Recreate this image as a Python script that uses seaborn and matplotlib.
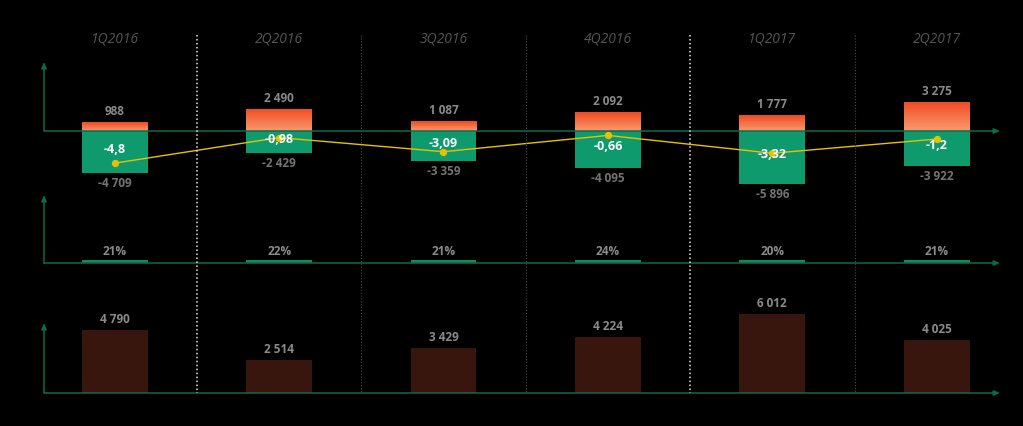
import numpy as np
import pandas as pd
import matplotlib
matplotlib.use("Agg")
import matplotlib.pyplot as plt
from matplotlib.colors import LinearSegmentedColormap
import seaborn as sns

# ---------------- data ----------------
quarters = ["1Q2016", "2Q2016", "3Q2016", "4Q2016", "1Q2017", "2Q2017"]
positive = [988, 2490, 1087, 2092, 1777, 3275]
negative = [-4709, -2429, -3359, -4095, -5896, -3922]
ratio = [-4.8, -0.98, -3.09, -0.66, -3.32, -1.2]
share_pct = [21, 22, 21, 24, 20, 21]
volume = [4790, 2514, 3429, 4224, 6012, 4025]
strong_dividers = [0, 3]  # divider after these category indices is drawn bold

# ---------------- style ----------------
sns.set_style("dark", {"axes.facecolor": "black", "figure.facecolor": "black"})
plt.rcParams["font.family"] = ["Open Sans", "DejaVu Sans"]

BG = "black"
ORANGE_TOP = "#f04a21"
ORANGE_BOT = "#f89a6e"
GREEN = "#0f9a6e"
GREEN_THIN = "#118a62"
AXIS_GREEN = "#0e6a4f"
BROWN = "#38160d"
YELLOW = "#e6c200"
LABEL_GRAY = "#8a8a8a"
NEG_GRAY = "#747474"
CAT_GRAY = "#555555"

W, H = 1023, 426
fig = plt.figure(figsize=(W / 100, H / 100), dpi=100, facecolor=BG)


def box(l, t, r, b):
    return [l / W, 1 - b / H, (r - l) / W, (b - t) / H]


XLIM = (-0.43, 5.385)
BAR_KW = dict(saturation=1, width=0.4, errorbar=None, edgecolor="none", linewidth=0)


def thou(v):
    return f"{v:,}".replace(",", " ")


def dec(v):
    return f"{v:g}".replace(".", ",")


def clean(ax):
    ax.set_xlim(*XLIM)
    ax.set_xticks([])
    ax.set_yticks([])
    ax.set_xlabel("")
    ax.set_ylabel("")
    for s in ax.spines.values():
        s.set_visible(False)
    ax.set_facecolor("none")
    ax.grid(False)


def arrow(ax, xy, xytext, xycoords, textcoords):
    ax.annotate("", xy=xy, xycoords=xycoords, xytext=xytext, textcoords=textcoords,
                arrowprops=dict(arrowstyle="-|>,head_length=0.35,head_width=0.15",
                                color=AXIS_GREEN, lw=1.1, shrinkA=0, shrinkB=0),
                annotation_clip=False)


df = pd.DataFrame({"q": quarters, "pos": positive, "neg": negative, "ratio": ratio,
                   "share": share_pct, "vol": volume})

lab_kw = dict(fontsize=8.5, fontweight="bold")

# ---------------- top panel ----------------
zero_px, top_px, bot_px = 131, 62, 190
px_per_unit_bar = 112.0
ax1 = fig.add_axes(box(44, top_px, 1000, bot_px))
sns.barplot(data=df, x="q", y="pos", color=ORANGE_TOP, ax=ax1, **BAR_KW)
sns.barplot(data=df, x="q", y="neg", color=GREEN, ax=ax1, **BAR_KW)
YL1 = (-(bot_px - zero_px) * px_per_unit_bar, (zero_px - top_px) * px_per_unit_bar)
ax1.set_ylim(*YL1)
clean(ax1)

# gradient fill on the positive bars
cmap = LinearSegmentedColormap.from_list("og", [ORANGE_BOT, ORANGE_TOP])
grad = np.linspace(0, 1, 64).reshape(-1, 1)
for p in ax1.containers[0]:
    x0, y0 = p.get_x(), p.get_y()
    w, h = p.get_width(), p.get_height()
    im = ax1.imshow(grad, cmap=cmap, origin="lower", aspect="auto",
                    extent=(x0, x0 + w, y0, y0 + h), zorder=p.get_zorder() + 0.1)
    im.set_clip_path(p)
ax1.set_xlim(*XLIM)
ax1.set_ylim(*YL1)

ax1.bar_label(ax1.containers[0], labels=[thou(v) for v in positive], padding=3,
              color=LABEL_GRAY, **lab_kw)
ax1.bar_label(ax1.containers[1], labels=[thou(v) for v in negative], padding=3,
              color=NEG_GRAY, **lab_kw)

arrow(ax1, (1, 0), (0, 0), ("axes fraction", "data"), ("axes fraction", "data"))
arrow(ax1, (0, 1), (0, 0), "axes fraction", ("axes fraction", "data"))

ax1t = ax1.twinx()
sns.pointplot(data=df, x="q", y="ratio", ax=ax1t, color=YELLOW, markers="o",
              errorbar=None, linewidth=1.0, markersize=4.5)
px_per_unit_line = 6.7
ax1t.set_ylim(-(bot_px - zero_px) / px_per_unit_line, (zero_px - top_px) / px_per_unit_line)
clean(ax1t)
# white ratio labels centred in the green bars, drawn above the line
for p, v in zip(ax1.containers[1], ratio):
    cx = p.get_x() + p.get_width() / 2
    cy = p.get_y() + p.get_height() / 2
    ax1t.annotate(dec(v), xy=(cx, cy), xycoords=ax1.transData, xytext=(0, 2),
                  textcoords="offset points", ha="center", va="center",
                  color="white", fontsize=9, fontweight="bold", zorder=10)

# ---------------- middle panel ----------------
ax2 = fig.add_axes(box(44, 195, 1000, 263))
sns.barplot(data=df, x="q", y="share", color=GREEN_THIN, ax=ax2, **BAR_KW)
ax2.set_ylim(0, 520)
clean(ax2)
ax2.bar_label(ax2.containers[0], labels=[f"{v}%" for v in share_pct], padding=1.5,
              color=LABEL_GRAY, **lab_kw)
arrow(ax2, (0, 1), (0, 0), "axes fraction", "axes fraction")
arrow(ax2, (1, 0), (0, 0), "axes fraction", "axes fraction")

# ---------------- bottom panel ----------------
b_top, b_bot, b_arrow = 300, 393, 323
ax3 = fig.add_axes(box(44, b_top, 1000, b_bot))
sns.barplot(data=df, x="q", y="vol", color=BROWN, ax=ax3, **BAR_KW)
ax3.set_ylim(0, 6012 * (b_bot - b_top) / 79)
clean(ax3)
ax3.bar_label(ax3.containers[0], labels=[thou(v) for v in volume], padding=3,
              color=LABEL_GRAY, **lab_kw)
arrow(ax3, (0, (b_bot - b_arrow) / (b_bot - b_top)), (0, 0), "axes fraction", "axes fraction")
arrow(ax3, (1, 0), (0, 0), "axes fraction", "axes fraction")

# ---------------- overlay: dividers + category titles ----------------
ov = fig.add_axes(box(44, 0, 1000, H))
ov.set_ylim(H, 0)
clean(ov)
ov.patch.set_alpha(0)
for i in range(len(quarters) - 1):
    if i in strong_dividers:
        ov.vlines(i + 0.5, 35, 393, colors="#e8e8e8", linestyles=(0, (1, 1.6)), lw=1.1)
    else:
        ov.vlines(i + 0.5, 35, 393, colors="#4a4a4a", linestyles=(0, (1, 1.6)), lw=0.8)
for i, q in enumerate(quarters):
    ov.text(i, 39, q, ha="center", va="center", fontsize=10, fontstyle="italic",
            color=CAT_GRAY)

fig.savefig("out.png", dpi=100, facecolor=BG)
